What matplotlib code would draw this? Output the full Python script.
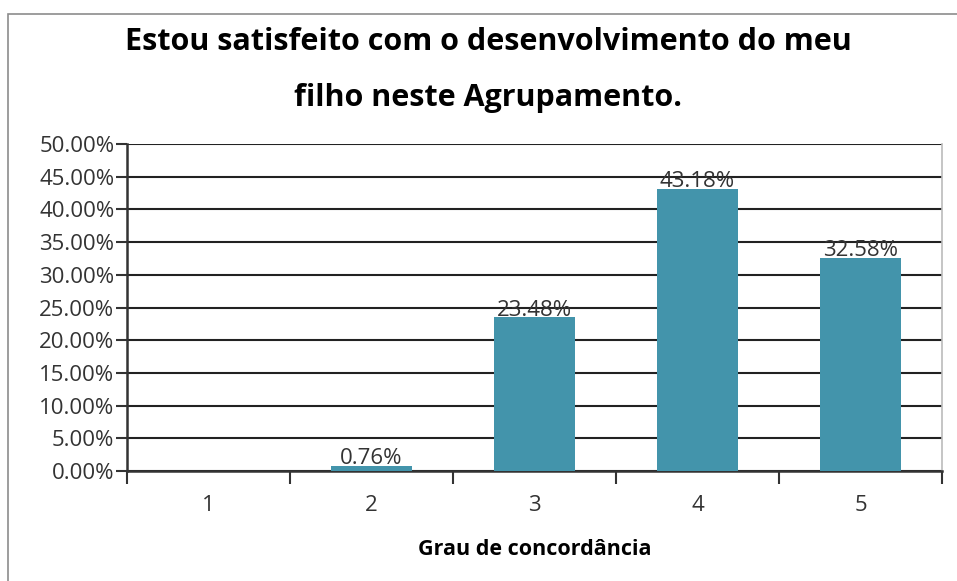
import matplotlib.pyplot as plt
from matplotlib.patches import Rectangle
from matplotlib.ticker import FuncFormatter

categories = ["1", "2", "3", "4", "5"]
values = [0.0, 0.76, 23.48, 43.18, 32.58]
yticks = [0, 5, 10, 15, 20, 25, 30, 35, 40, 45, 50]

title = "Estou satisfeito com o desenvolvimento do meu\nfilho neste Agrupamento."
xlabel = "Grau de concordância"

plt.rcParams['font.family'] = ['Open Sans', 'DejaVu Sans']

fig = plt.figure(figsize=(9.57, 5.81), dpi=100)
ax = fig.add_axes([127 / 957, 1 - 471 / 581, 815 / 957, 327 / 581])

# outer chart frame (cropped on right/bottom)
fig.patches.append(Rectangle((8 / 957, -0.1), 1.2, 1 - 14 / 581 + 0.1,
                             transform=fig.transFigure, fill=False,
                             edgecolor="#8c8c8c", linewidth=1.2))

x = list(range(len(categories)))
bars = ax.bar(x, values, width=0.5, color="#4394ab", zorder=3)
for xi, v in zip(x, values):
    if v > 0:
        ax.text(xi, v - 0.5, f"{v:.2f}%", ha="center", va="bottom",
                fontsize=16, color="#333333", zorder=4)

ax.set_xlim(-0.5, len(categories) - 0.5)
ax.set_ylim(0, 50)
ax.set_yticks(yticks)
ax.yaxis.set_major_formatter(FuncFormatter(lambda v, p: f"{v:.2f}%"))
ax.set_xticks(x)
ax.set_xticklabels(categories)
ax.set_xticks([i + 0.5 for i in range(-1, len(categories))], minor=True)
ax.tick_params(axis="x", which="major", length=0, pad=17, labelsize=16, labelcolor="#333333")
ax.tick_params(axis="x", which="minor", length=9, width=1.5, color="#333333", direction="out")
ax.tick_params(axis="y", length=8, width=1.5, color="#333333", labelsize=16,
               labelcolor="#333333", pad=1)

ax.grid(axis="y", color="#222222", linewidth=1.5, zorder=1)
ax.set_axisbelow(True)
ax.spines["top"].set_visible(False)
ax.spines["right"].set_color("#bbbbbb")
ax.spines["right"].set_linewidth(1.2)
ax.spines["left"].set_color("#333333")
ax.spines["left"].set_linewidth(1.8)
ax.spines["bottom"].set_color("#333333")
ax.spines["bottom"].set_linewidth(1.8)

ax.set_xlabel(xlabel, fontsize=15.5, fontweight="bold", labelpad=17)
fig.text(0.51, 1 - 70 / 581, title, ha="center", va="center", fontsize=22,
         fontweight="bold", linespacing=2.1)

fig.savefig("out.png", dpi=100)
